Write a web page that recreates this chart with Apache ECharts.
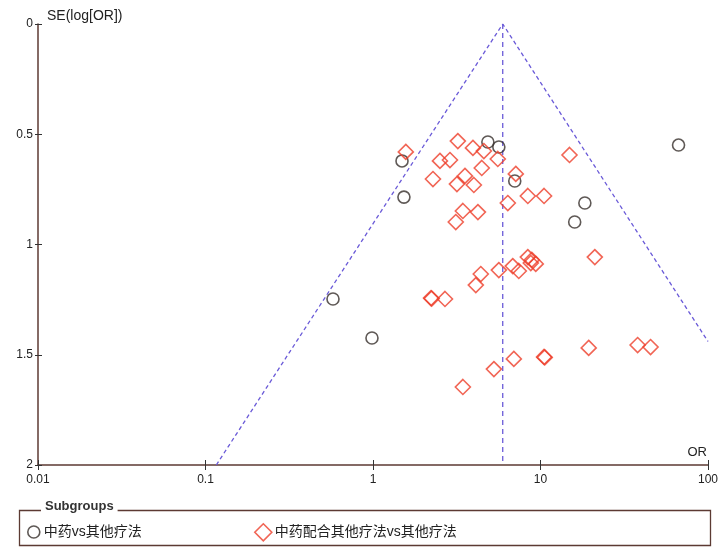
<!DOCTYPE html>
<html>
<head>
<meta charset="utf-8">
<script src="https://cdn.jsdelivr.net/npm/echarts@6/dist/echarts.min.js"></script>
<style>html,body{margin:0;padding:0;background:#fff}#c{width:722px;height:548px}</style>
</head>
<body>
<div id="c"></div>
<script>
// Subgroup 1: 中药vs其他疗法 (circles)
const circleOR = [66.7, 4.85, 5.64, 1.49, 1.53, 7.02, 18.4, 16.0, 0.577, 0.986];
const circleSE = [0.549, 0.535, 0.558, 0.621, 0.785, 0.712, 0.812, 0.898, 1.247, 1.424];
// Subgroup 2: 中药配合其他疗法vs其他疗法 (diamonds)
const diamondOR = [1.57, 3.21, 3.95, 4.59, 2.51, 2.88, 5.56, 4.46, 2.28, 3.54,
  3.17, 4.00, 7.12, 6.38, 8.40, 10.5, 3.44, 4.23, 3.12, 14.9,
  2.22, 2.24, 2.69, 4.11, 4.40, 5.64, 6.83, 7.42, 8.40, 8.75,
  8.87, 9.37, 21.1, 19.4, 38.0, 45.4, 6.93, 10.5, 10.6, 5.27, 3.44];
const diamondSE = [0.580, 0.531, 0.562, 0.576, 0.621, 0.617, 0.612, 0.653, 0.703, 0.689,
  0.726, 0.730, 0.680, 0.812, 0.780, 0.780, 0.848, 0.853, 0.898, 0.594,
  1.243, 1.245, 1.247, 1.184, 1.134, 1.116, 1.098, 1.120, 1.057, 1.084,
  1.070, 1.088, 1.057, 1.469, 1.456, 1.465, 1.519, 1.510, 1.512, 1.565, 1.646];
// Funnel (pseudo 95% CI) and pooled estimate
const funnelOR = [0.116, 5.95, 100];
const funnelSE = [2, 0, 1.44];
const pooledOR = [5.95, 5.95];
const pooledSE = [0, 2];
const xTicks = ['0.01', '0.1', '1', '10', '100'];
const yTicks = ['0', '0.5', '1', '1.5', '2'];
const groupNames = ['中药vs其他疗法', '中药配合其他疗法vs其他疗法'];

const zip = (a, b) => a.map((v, i) => [v, b[i]]);
const FONT = 'Arial, "Liberation Sans", "Noto Sans CJK SC", sans-serif';
const AX = '#5c3a33';
const RED = '#ee3f2a';
const DARK = '#37302c';
const FUN = '#6a5ad8';
const GRID = {left: 38, right: 14, top: 24, bottom: 83};

const chart = echarts.init(document.getElementById('c'), null, {renderer: 'canvas'});
chart.setOption({
  animation: false,
  backgroundColor: '#fff',
  grid: [Object.assign({}, GRID), Object.assign({}, GRID)],
  xAxis: [{
    gridIndex: 0, type: 'log', logBase: 10, min: 0.01, max: 100, position: 'bottom',
    axisLine: {show: true, onZero: false, lineStyle: {color: AX, width: 1.5}},
    axisTick: {show: true, length: 5, lineStyle: {color: '#333', width: 1}},
    axisLabel: {color: '#222', fontSize: 12, fontFamily: FONT, margin: 9,
      formatter: v => xTicks.find(t => Math.abs(parseFloat(t) - v) < 1e-9 * Math.max(1, v)) || ''},
    splitLine: {show: false}, minorTick: {show: false}
  }, {
    gridIndex: 1, type: 'log', logBase: 10, min: 0.01, max: 100, position: 'bottom',
    axisLine: {show: false, onZero: false}, axisLabel: {show: false}, splitLine: {show: false},
    axisTick: {show: true, inside: true, length: 5, lineStyle: {color: '#333', width: 1}}
  }],
  yAxis: [{
    gridIndex: 0, type: 'value', min: 0, max: 2, interval: 0.5, inverse: true, position: 'left',
    axisLine: {show: true, onZero: false, lineStyle: {color: AX, width: 1.5}},
    axisTick: {show: true, length: 3, lineStyle: {color: '#333', width: 1}},
    axisLabel: {color: '#222', fontSize: 12, fontFamily: FONT, margin: 5,
      formatter: v => yTicks[Math.round(v / 0.5)]},
    splitLine: {show: false}
  }, {
    gridIndex: 1, type: 'value', min: 0, max: 2, interval: 0.5, inverse: true, position: 'left',
    axisLine: {show: false, onZero: false}, axisLabel: {show: false}, splitLine: {show: false},
    axisTick: {show: true, inside: true, length: 4, lineStyle: {color: '#333', width: 1}}
  }],
  legend: [{
    left: 22, top: 520, itemWidth: 12, itemHeight: 12, itemGap: 10,
    textStyle: {fontSize: 14, color: '#222', fontFamily: FONT, padding: [0, 0, 0, -1]},
    data: [{name: groupNames[0], icon: 'circle',
      itemStyle: {color: 'rgba(0,0,0,0)', borderColor: DARK, borderWidth: 1.6}}],
    selectedMode: false
  }, {
    left: 249, top: 518, itemWidth: 17, itemHeight: 17, itemGap: 10,
    textStyle: {fontSize: 14, color: '#222', fontFamily: FONT, padding: [0, 0, 0, -2]},
    data: [{name: groupNames[1], icon: 'diamond',
      itemStyle: {color: 'rgba(0,0,0,0)', borderColor: RED, borderWidth: 1.6}}],
    selectedMode: false
  }],
  graphic: [
    {type: 'rect', left: 17, top: 508, shape: {width: 691, height: 35},
      style: {fill: 'none', stroke: AX, lineWidth: 1.3}, z: 1},
    {type: 'text', left: 41, top: 500, z: 2,
      style: {text: 'Subgroups', font: 'bold 13px ' + FONT, fill: '#333',
        backgroundColor: '#fff', padding: [0, 4, 0, 4]}},
    {type: 'text', left: 47, top: 9,
      style: {text: 'SE(log[OR])', font: '14px ' + FONT, fill: '#222'}},
    {type: 'text', right: 15, top: 446,
      style: {text: 'OR', font: '13px ' + FONT, fill: '#222'}}
  ],
  series: [{
    type: 'line', data: zip(funnelOR, funnelSE), symbol: 'none', silent: true, clip: true,
    lineStyle: {color: FUN, width: 1.3, type: [4, 3]}, z: 1
  }, {
    type: 'line', data: zip(pooledOR, pooledSE), symbol: 'none', silent: true,
    lineStyle: {color: FUN, width: 1.3, type: [5, 4]}, z: 1
  }, {
    name: groupNames[0], type: 'scatter', data: zip(circleOR, circleSE),
    symbol: 'circle', symbolSize: 12,
    itemStyle: {color: 'rgba(0,0,0,0)', borderColor: DARK, borderWidth: 1.6}, z: 3
  }, {
    name: groupNames[1], type: 'scatter', data: zip(diamondOR, diamondSE),
    symbol: 'diamond', symbolSize: 15,
    itemStyle: {color: 'rgba(0,0,0,0)', borderColor: RED, borderWidth: 1.6}, z: 3
  }]
});
</script>
</body>
</html>
